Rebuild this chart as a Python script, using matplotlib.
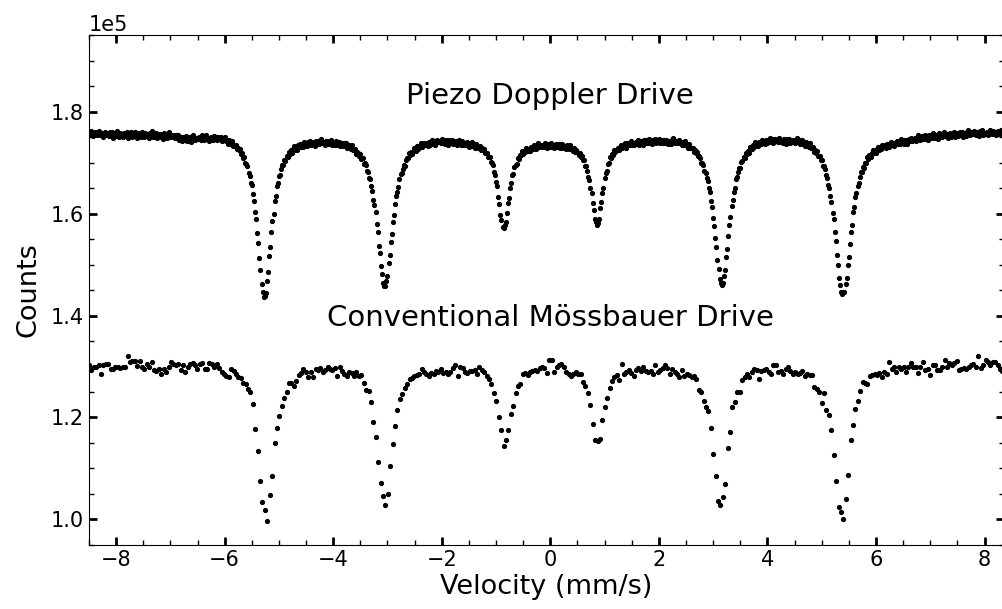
#!/usr/bin/env python3
"""
plot.py — Mossbauer spectra: piezo Doppler drive vs conventional drive
Usage: python3 plot.py
"""
import matplotlib
matplotlib.use('Agg')
import matplotlib.pyplot as plt
from matplotlib.ticker import MultipleLocator, AutoMinorLocator
import numpy as np

# velocity range covered by the channels (mm/s)
PIEZO_VMIN, PIEZO_VMAX = -8.5, 8.34
CONV_VMIN, CONV_VMAX = -8.5, 8.33

# counts per channel, in units of 100 counts
piezo_counts = [
    1758, 1753, 1761, 1755, 1752, 1757, 1759, 1754, 1756, 1762, 1753, 1755, 1758, 1751, 1757, 1760, 1754, 1756, 1752, 1759,
    1753, 1759, 1749, 1756, 1758, 1752, 1762, 1754, 1751, 1757, 1755, 1750, 1758, 1756, 1753, 1760, 1748, 1757, 1754, 1759,
    1751, 1755, 1759, 1752, 1748, 1757, 1754, 1756, 1750, 1760, 1753, 1751, 1758, 1752, 1755, 1749, 1757, 1754, 1761, 1750,
    1755, 1751, 1757, 1748, 1754, 1756, 1750, 1753, 1747, 1758, 1752, 1755, 1749, 1756, 1759, 1751, 1753, 1750, 1754, 1748,
    1754, 1749, 1754, 1745, 1749, 1750, 1743, 1750, 1745, 1752, 1743, 1747, 1745, 1751, 1741, 1749, 1753, 1746, 1744, 1749,
    1746, 1751, 1749, 1744, 1753, 1747, 1745, 1750, 1754, 1746, 1748, 1743, 1751, 1749, 1745, 1752, 1747, 1750, 1744, 1751, 1748, 1746,
    1751, 1743, 1748, 1750, 1742, 1744, 1737, 1745, 1740, 1736, 1743, 1733, 1734, 1735, 1727, 1729, 1724, 1726, 1716, 1718,
    1709, 1710, 1699, 1698, 1693, 1679, 1674, 1659, 1655, 1638, 1625, 1602, 1590, 1561, 1542, 1512, 1489, 1462, 1447, 1436,
    1439, 1444, 1467, 1486, 1516, 1535, 1564, 1586, 1600, 1624, 1635, 1654, 1660, 1673, 1675, 1687, 1696, 1696, 1705, 1702,
    1712, 1710, 1721, 1717, 1724, 1719, 1727, 1733, 1725, 1730, 1725, 1734, 1736, 1731, 1735, 1731, 1740, 1735, 1739, 1733,
    1740, 1735, 1743, 1734, 1739, 1741, 1733, 1743, 1738, 1743, 1737, 1740, 1746, 1738, 1741, 1735, 1742, 1743, 1736, 1740,
    1738, 1744, 1734, 1740, 1738, 1735, 1742, 1735, 1740, 1732, 1738,
    1739, 1733, 1739, 1733, 1739, 1729, 1733, 1734, 1727, 1734, 1724, 1725, 1727, 1717, 1721, 1718, 1712, 1716, 1707, 1708,
    1698, 1699, 1696, 1684, 1681, 1669, 1667, 1653, 1645, 1626, 1617, 1603, 1579, 1563, 1537, 1522, 1497, 1481, 1463, 1458,
    1457, 1468, 1477, 1502, 1518, 1545, 1560, 1583, 1598, 1619, 1635, 1643, 1652, 1667, 1678, 1679, 1688, 1696, 1694, 1704,
    1709, 1708, 1718, 1715, 1720, 1716, 1729, 1725, 1723, 1732, 1727, 1733, 1731, 1738, 1731, 1737, 1739, 1734, 1738, 1733,
    1740, 1734, 1740, 1744, 1737, 1743, 1735, 1740, 1744, 1740, 1743, 1738, 1747, 1739, 1742, 1737, 1744, 1743, 1735, 1745,
    1739, 1745, 1737, 1741, 1738, 1742, 1735, 1741, 1745, 1737, 1735, 1742, 1735, 1738,
    1734, 1741, 1737, 1731, 1738, 1733, 1741, 1733, 1735, 1729, 1737, 1729, 1731, 1732, 1725, 1728, 1724, 1727, 1719, 1719,
    1719, 1710, 1710, 1701, 1699, 1695, 1682, 1676, 1662, 1653, 1633, 1619, 1598, 1588, 1574, 1571,
    1577, 1583, 1601, 1620, 1631, 1650, 1660, 1675, 1677, 1691, 1696, 1698, 1709, 1707, 1715, 1714, 1722, 1716, 1723, 1721,
    1728, 1723, 1727, 1722, 1731, 1731, 1726, 1735, 1730, 1727, 1734, 1738, 1730, 1734, 1730,
    1735, 1730, 1738, 1733, 1729, 1736, 1734, 1731, 1739, 1732, 1728, 1735, 1737, 1730, 1734,
    1736, 1729, 1734, 1737, 1729, 1732, 1726, 1734, 1730, 1726, 1734, 1726, 1728, 1722, 1728, 1721, 1725, 1721, 1715, 1718,
    1711, 1713, 1705, 1704, 1694, 1693, 1684, 1672, 1666, 1651, 1641, 1620, 1607, 1590, 1584, 1578,
    1582, 1590, 1610, 1622, 1641, 1651, 1669, 1679, 1683, 1697, 1699, 1710, 1709, 1716, 1714, 1725, 1720, 1725, 1729, 1724,
    1731, 1735, 1728, 1733, 1731, 1738, 1729, 1738, 1737, 1734, 1743, 1734, 1739, 1734, 1739,
    1741, 1736, 1744, 1735, 1740, 1742, 1734, 1744, 1739, 1744, 1738, 1741, 1747, 1739, 1743, 1737, 1744, 1746, 1739, 1743,
    1741, 1747, 1738, 1744, 1742, 1739, 1745, 1739, 1744, 1736, 1742, 1743, 1737, 1744, 1748, 1740, 1738, 1743, 1739,
    1738, 1744, 1741, 1734, 1741, 1735, 1742, 1734, 1736, 1729, 1736, 1728, 1729, 1729, 1721, 1724, 1719, 1721, 1712, 1712,
    1709, 1700, 1700, 1696, 1684, 1680, 1669, 1664, 1650, 1643, 1625, 1613, 1591, 1576, 1551, 1535, 1509, 1492, 1472, 1464, 1459,
    1463, 1477, 1489, 1514, 1530, 1555, 1577, 1593, 1615, 1626, 1643, 1650, 1667, 1671, 1681, 1690, 1690, 1701, 1703, 1711,
    1709, 1719, 1717, 1723, 1719, 1730, 1728, 1726, 1735, 1730, 1740, 1734, 1732, 1740, 1739, 1736, 1745, 1739, 1743, 1737,
    1744, 1738, 1744, 1748, 1741, 1746, 1738, 1743, 1747, 1742, 1745, 1740, 1749, 1741, 1744, 1739, 1746, 1745, 1737, 1747,
    1741, 1747, 1739, 1743, 1740, 1745, 1738, 1744, 1748, 1741,
    1745, 1737, 1743, 1745, 1737, 1739, 1732, 1740, 1735, 1730, 1738, 1728, 1729, 1731, 1721, 1724, 1719, 1722, 1712, 1713,
    1704, 1705, 1693, 1693, 1688, 1675, 1669, 1655, 1651, 1634, 1622, 1601, 1590, 1563, 1546, 1519, 1499, 1473, 1460, 1446, 1443,
    1447, 1447, 1461, 1474, 1499, 1515, 1541, 1564, 1577, 1602, 1613, 1633, 1640, 1654, 1659, 1671, 1681, 1681, 1692, 1690,
    1700, 1699, 1710, 1707, 1714, 1710, 1718, 1724, 1718, 1723, 1718, 1727, 1730, 1725, 1729, 1726, 1735, 1730, 1734, 1728, 1736,
    1736, 1730, 1736, 1740, 1734, 1739, 1732, 1737, 1742, 1737, 1741, 1736, 1746, 1738, 1742, 1737, 1745, 1744, 1737, 1747,
    1743, 1749, 1742, 1746, 1744, 1749, 1742, 1749, 1753, 1747, 1745, 1752, 1747, 1750, 1754, 1746, 1752, 1745, 1754, 1751,
    1754, 1749, 1757, 1748, 1753, 1754, 1747, 1757, 1752, 1756, 1750, 1753, 1760, 1752, 1755, 1749, 1756, 1758, 1751, 1755,
    1754, 1760, 1751, 1757, 1755, 1752, 1759, 1754, 1759, 1751, 1757, 1758, 1752, 1759, 1763, 1755, 1753, 1759, 1755, 1761,
    1758, 1753, 1760, 1759, 1752, 1761, 1756, 1763, 1754, 1758, 1755, 1760, 1753, 1760, 1763, 1757, 1755, 1762, 1756, 1759,
    1753, 1761, 1760, 1755, 1764, 1757, 1760,
]

conventional_counts = [
    1302, 1294, 1299, 1300, 1302, 1286, 1302, 1304, 1305, 1296, 1296, 1299, 1300, 1297, 1299, 1300, 1320, 1309, 1311, 1310,
    1301, 1310, 1300, 1296, 1304, 1300, 1309, 1294, 1291, 1296, 1286, 1296, 1289, 1300, 1309, 1304, 1302, 1305, 1294, 1302,
    1289, 1300, 1304, 1307, 1302, 1296, 1304, 1307, 1296, 1296, 1307, 1304, 1300, 1304, 1298, 1289, 1286, 1282, 1280, 1295,
    1291, 1286, 1280, 1278, 1267, 1266, 1256, 1250, 1227, 1178, 1134, 1076, 1034, 1018, 998, 1048, 1086, 1150, 1179, 1203,
    1222, 1238, 1250, 1267, 1268, 1262, 1271, 1284, 1288, 1295, 1289, 1280, 1289, 1279, 1295, 1293, 1297, 1289, 1293, 1299,
    1296, 1294, 1297, 1282, 1299, 1292, 1286, 1281, 1289, 1287, 1281, 1290, 1282, 1284, 1267, 1254, 1252, 1231, 1192, 1161,
    1113, 1071, 1046, 1029, 1050, 1104, 1149, 1183, 1215, 1237, 1246, 1258, 1266, 1276, 1278, 1281, 1284, 1285, 1296, 1289,
    1285, 1282, 1287, 1285, 1291, 1289, 1296, 1287, 1289, 1285, 1290, 1297, 1302, 1282, 1299, 1297, 1289, 1287, 1292, 1291,
    1294, 1285, 1299, 1294, 1289, 1282, 1275, 1266, 1248, 1232, 1200, 1176, 1145, 1156, 1176, 1206, 1222, 1248, 1261, 1266,
    1285, 1287, 1283, 1290, 1292, 1294, 1292, 1297, 1299, 1297, 1288, 1312, 1312, 1289, 1300, 1302, 1304, 1299, 1289, 1286,
    1282, 1285, 1289, 1285, 1286, 1270, 1261, 1248, 1224, 1188, 1156, 1153, 1158, 1195, 1220, 1239, 1258, 1271, 1280, 1284,
    1274, 1304, 1286, 1289, 1294, 1287, 1282, 1294, 1297, 1291, 1299, 1292, 1289, 1291, 1286, 1302, 1289, 1294, 1297, 1302,
    1297, 1286, 1296, 1289, 1286, 1280, 1294, 1282, 1286, 1284, 1280, 1281, 1276, 1253, 1250, 1233, 1220, 1212, 1179, 1128,
    1085, 1037, 1028, 1044, 1070, 1141, 1171, 1220, 1231, 1250, 1250, 1273, 1279, 1286, 1280, 1289, 1296, 1294, 1276, 1291,
    1294, 1296, 1289, 1286, 1302, 1302, 1289, 1291, 1286, 1296, 1299, 1291, 1286, 1289, 1286, 1287, 1291, 1282, 1286, 1283,
    1284, 1260, 1255, 1250, 1228, 1248, 1214, 1204, 1175, 1127, 1076, 1024, 1014, 1001, 1041, 1088, 1155, 1186, 1217, 1232,
    1251, 1269, 1267, 1265, 1282, 1284, 1286, 1284, 1288, 1280, 1290, 1286, 1309, 1296, 1300, 1289, 1300, 1295, 1299, 1289,
    1299, 1307, 1300, 1300, 1288, 1299, 1309, 1294, 1296, 1284, 1302, 1302, 1294, 1294, 1300, 1312, 1299, 1307, 1302, 1307,
    1311, 1294, 1296, 1297, 1296, 1300, 1302, 1305, 1300, 1320, 1297, 1302, 1313, 1309, 1302, 1309, 1309, 1302, 1296, 1291,
]

LABEL_PIEZO = 'Piezo Doppler Drive'
LABEL_CONV = 'Conventional Mössbauer Drive'


def main():
    v_piezo = np.linspace(PIEZO_VMIN, PIEZO_VMAX, len(piezo_counts))
    v_conv = np.linspace(CONV_VMIN, CONV_VMAX, len(conventional_counts))
    y_piezo = np.array(piezo_counts) * 100
    y_conv = np.array(conventional_counts) * 100

    fig = plt.figure(figsize=(10.03, 6.09), dpi=100)
    # right spine sits just past the image edge, as in the original crop
    ax = fig.add_axes([0.0887, 0.1051, 0.9118, 0.8374])

    ax.plot(v_piezo, y_piezo, 'k.', ms=5.5)
    ax.plot(v_conv, y_conv, 'k.', ms=5.5)

    ax.text(0, 1.83e5, LABEL_PIEZO, ha='center', va='center', fontsize=21)
    ax.text(0, 1.395e5, LABEL_CONV, ha='center', va='center', fontsize=21)

    ax.set_xlim(-8.5, 8.35)
    ax.set_ylim(0.95e5, 1.95e5)
    ax.set_xlabel('Velocity (mm/s)', fontsize=19.5, labelpad=3)
    ax.set_ylabel('Counts', fontsize=19.5, labelpad=7)

    ax.xaxis.set_major_locator(MultipleLocator(2))
    ax.xaxis.set_minor_locator(AutoMinorLocator(4))
    ax.yaxis.set_major_locator(MultipleLocator(2e4))
    ax.yaxis.set_minor_locator(AutoMinorLocator(4))
    ax.ticklabel_format(axis='y', style='sci', scilimits=(0, 0))
    ax.yaxis.get_offset_text().set_fontsize(15)

    ax.tick_params(which='both', direction='in', top=True, right=True, labelsize=15)
    ax.tick_params(which='major', length=6, width=2)
    ax.tick_params(which='minor', length=3.5, width=1)

    fig.savefig('out.png', dpi=100)
    plt.close(fig)


if __name__ == '__main__':
    main()
